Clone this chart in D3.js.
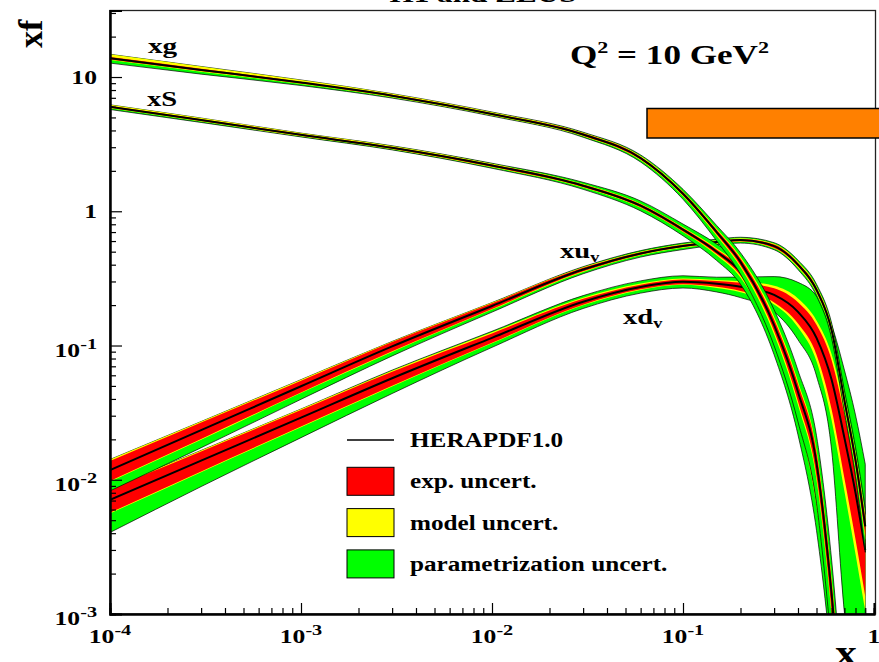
<!DOCTYPE html>
<html>
<head>
<meta charset="utf-8">
<script src="https://cdn.jsdelivr.net/npm/d3@7"></script>
<style>
  body { margin: 0; background: #fff; }
  svg { display: block; }
  text { font-family: "Liberation Serif", "Times New Roman", serif; font-weight: bold; fill: #000; }
</style>
</head>
<body>
<svg id="chart" width="879" height="662"></svg>
<script>
// x grid shared by all four distributions
const xGrid = [1e-4, 3e-4, 1e-3, 3e-3, 0.01, 0.03, 0.06, 0.1, 0.15, 0.2, 0.3, 0.4, 0.5, 0.6, 0.7, 0.8, 0.9];

// gluon
const xgCentral = [13.8, 11.3, 9.1, 7.26, 5.3, 3.73, 2.49, 1.35, 0.70, 0.42, 0.142, 0.045, 0.0133, 0.0014, 0.0001, 0.00001, 0.000001];
const xgExp   = [0.02, 0.02, 0.015, 0.015, 0.015, 0.02, 0.025, 0.03, 0.04, 0.06, 0.10, 0.15, 0.2, 0.25, 0.3, 0.3, 0.3];
const xgModUp = [0.05, 0.04, 0.03, 0.02, 0.015, 0.01, 0.01, 0.01, 0.02, 0.03, 0.05, 0.05, 0.05, 0.05, 0.05, 0.05, 0.05];
const xgModDn = [0.01, 0.01, 0.01, 0.01, 0.01, 0.01, 0.01, 0.01, 0.02, 0.03, 0.05, 0.05, 0.05, 0.05, 0.05, 0.05, 0.05];
const xgParUp = [0, 0, 0, 0, 0.005, 0.01, 0.02, 0.04, 0.06, 0.08, 0.15, 0.25, 0.35, 0.5, 0.5, 0.5, 0.5];
const xgParDn = [0.05, 0.04, 0.025, 0.015, 0.01, 0.015, 0.03, 0.05, 0.08, 0.1, 0.15, 0.2, 0.25, 0.3, 0.3, 0.3, 0.3];

// sea
const xSCentral = [6.0, 4.78, 3.71, 2.97, 2.19, 1.55, 1.10, 0.73, 0.50, 0.353, 0.12, 0.036, 0.0084, 0.0011, 0.0001, 0.00001, 0.000001];
const xSExp   = [0.015, 0.015, 0.015, 0.015, 0.02, 0.02, 0.025, 0.03, 0.04, 0.06, 0.1, 0.15, 0.2, 0.25, 0.3, 0.3, 0.3];
const xSModUp = [0.02, 0.02, 0.015, 0.015, 0.01, 0.01, 0.01, 0.01, 0.02, 0.03, 0.04, 0.05, 0.05, 0.05, 0.05, 0.05, 0.05];
const xSModDn = [0.01, 0.01, 0.01, 0.01, 0.01, 0.01, 0.01, 0.01, 0.02, 0.03, 0.04, 0.05, 0.05, 0.05, 0.05, 0.05, 0.05];
const xSParUp = [0, 0, 0, 0.005, 0.01, 0.03, 0.05, 0.06, 0.08, 0.1, 0.15, 0.25, 0.35, 0.5, 0.5, 0.5, 0.5];
const xSParDn = [0.02, 0.015, 0.01, 0.01, 0.015, 0.03, 0.05, 0.06, 0.08, 0.1, 0.15, 0.2, 0.25, 0.3, 0.3, 0.3, 0.3];

// u valence
const xuvCentral = [0.0118, 0.0234, 0.0497, 0.0984, 0.197, 0.368, 0.485, 0.552, 0.59, 0.61, 0.55, 0.40, 0.26, 0.13, 0.039, 0.014, 0.0045];
const xuvExp   = [0.17, 0.14, 0.10, 0.08, 0.05, 0.03, 0.02, 0.02, 0.02, 0.02, 0.03, 0.03, 0.04, 0.05, 0.07, 0.10, 0.15];
const xuvModUp = [0.03, 0.02, 0.02, 0.01, 0.01, 0.01, 0.01, 0.01, 0.01, 0.01, 0.01, 0.02, 0.02, 0.03, 0.04, 0.05, 0.06];
const xuvModDn = [0.01, 0.01, 0.01, 0.01, 0.01, 0.01, 0.01, 0.01, 0.01, 0.01, 0.01, 0.02, 0.02, 0.03, 0.04, 0.05, 0.06];
const xuvParUp = [0, 0, 0, 0, 0, 0.01, 0.02, 0.02, 0.02, 0.02, 0.02, 0.03, 0.04, 0.05, 0.08, 0.1, 0.15];
const xuvParDn = [0.12, 0.11, 0.09, 0.06, 0.04, 0.03, 0.03, 0.03, 0.02, 0.02, 0.02, 0.03, 0.04, 0.05, 0.08, 0.1, 0.15];

// d valence
const xdvCentral = [0.0071, 0.0139, 0.029, 0.057, 0.114, 0.212, 0.273, 0.298, 0.288, 0.274, 0.238, 0.178, 0.114, 0.0555, 0.0205, 0.008, 0.003];
const xdvExp   = [0.2, 0.17, 0.14, 0.12, 0.08, 0.05, 0.04, 0.04, 0.05, 0.07, 0.12, 0.18, 0.25, 0.4, 0.5, 0.55, 0.55];
const xdvModUp = [0.02, 0.02, 0.02, 0.02, 0.02, 0.02, 0.02, 0.02, 0.02, 0.03, 0.05, 0.08, 0.1, 0.15, 0.2, 0.25, 0.3];
const xdvModDn = [0.01, 0.01, 0.01, 0.01, 0.01, 0.01, 0.01, 0.01, 0.02, 0.02, 0.03, 0.05, 0.08, 0.1, 0.1, 0.1, 0.1];
const xdvParUp = [0, 0, 0, 0.01, 0.02, 0.04, 0.05, 0.05, 0.05, 0.08, 0.2, 0.4, 0.7, 1.0, 1.5, 2.0, 2.5];
const xdvParDn = [0.22, 0.18, 0.14, 0.1, 0.06, 0.05, 0.05, 0.05, 0.06, 0.08, 0.1, 0.15, 0.15, 0.2, 0.35, 0.35, 0.35];

// axes ticks and labels
const xMajor = [1e-4, 1e-3, 1e-2, 1e-1, 1];
const xMajorLabels = [["10", "-4"], ["10", "-3"], ["10", "-2"], ["10", "-1"], ["1", ""]];
const yMajor = [1e-3, 1e-2, 1e-1, 1, 10];
const yMajorLabels = [["10", "-3"], ["10", "-2"], ["10", "-1"], ["1", ""], ["10", ""]];

const legendLabels = ["HERAPDF1.0", "exp. uncert.", "model uncert.", "parametrization uncert."];
const legendColors = [null, "#ff0000", "#ffff00", "#00ff00"];

const svg = d3.select("#chart");
const plotL = 110, plotR = 874, plotT = 10.5, plotB = 614, frameR = 875.5;

const x = d3.scaleLog().domain([1e-4, 1]).range([plotL, plotR]);
const y = d3.scaleLog().domain([1e-3, 31.3]).range([plotB, plotT]);

svg.append("defs").append("clipPath").attr("id", "plotClip")
  .append("rect").attr("x", plotL).attr("y", plotT).attr("width", frameR - plotL).attr("height", plotB - plotT);

// build band rows for one distribution
function bands(c, ex, mu, md, pu, pd) {
  const lo = (v, d) => v * Math.max(1 - d, 0.03);
  return xGrid.map((xv, i) => ({
    x: xv, c: c[i],
    eLo: lo(c[i], ex[i]), eHi: c[i] * (1 + ex[i]),
    mLo: lo(c[i], ex[i] + md[i]), mHi: c[i] * (1 + ex[i] + mu[i]),
    pLo: lo(c[i], ex[i] + md[i] + pd[i]), pHi: c[i] * (1 + ex[i] + mu[i] + pu[i])
  }));
}

const pdfs = [
  bands(xdvCentral, xdvExp, xdvModUp, xdvModDn, xdvParUp, xdvParDn),
  bands(xuvCentral, xuvExp, xuvModUp, xuvModDn, xuvParUp, xuvParDn),
  bands(xSCentral, xSExp, xSModUp, xSModDn, xSParUp, xSParDn),
  bands(xgCentral, xgExp, xgModUp, xgModDn, xgParUp, xgParDn)
];

const plot = svg.append("g").attr("clip-path", "url(#plotClip)");

function area(loKey, hiKey) {
  return d3.area().x(d => x(d.x)).y0(d => y(d[loKey])).y1(d => y(d[hiKey])).curve(d3.curveMonotoneX);
}
const centralLine = d3.line().x(d => x(d.x)).y(d => y(d.c)).curve(d3.curveMonotoneX);

pdfs.forEach(rows => {
  const g = plot.append("g");
  g.append("path").attr("d", area("pLo", "pHi")(rows)).attr("fill", "#00ff00")
    .attr("stroke", "#000").attr("stroke-width", 0.7);
  g.append("path").attr("d", area("mLo", "mHi")(rows)).attr("fill", "#ffff00");
  g.append("path").attr("d", area("eLo", "eHi")(rows)).attr("fill", "#ff0000");
  g.append("path").attr("d", centralLine(rows)).attr("fill", "none")
    .attr("stroke", "#000").attr("stroke-width", 2);
});

// frame
svg.append("rect").attr("x", plotL).attr("y", plotT).attr("width", frameR - plotL).attr("height", plotB - plotT)
  .attr("fill", "none").attr("stroke", "#222").attr("stroke-width", 1.3);

// ticks
const xMinor = [];
for (let e = -4; e < 0; e++) for (let m = 2; m <= 9; m++) xMinor.push(m * Math.pow(10, e));
const yMinor = [];
for (let e = -3; e <= 1; e++) for (let m = 2; m <= 9; m++) { const v = m * Math.pow(10, e); if (v < 31.3) yMinor.push(v); }

svg.append("g").attr("transform", `translate(0,${plotB})`)
  .call(d3.axisBottom(x).tickValues(xMinor).tickSize(-6).tickFormat(""));
svg.append("g").attr("transform", `translate(0,${plotB})`)
  .call(d3.axisBottom(x).tickValues(xMajor).tickSize(-11).tickFormat(""));
svg.append("g").attr("transform", `translate(${plotL},0)`)
  .call(d3.axisLeft(y).tickValues(yMinor).tickSize(-6).tickFormat(""));
svg.append("g").attr("transform", `translate(${plotL},0)`)
  .call(d3.axisLeft(y).tickValues(yMajor).tickSize(-12).tickFormat(""));
svg.selectAll(".domain").attr("stroke", "#000").attr("stroke-width", 2);
svg.selectAll(".tick line").attr("stroke", "#000").attr("stroke-width", 1.2);

// stretched serif text helper
function label(tx, ty, sx, size, anchor) {
  return svg.append("g").attr("transform", `translate(${tx},${ty}) scale(${sx},1)`)
    .append("text").attr("font-size", size).attr("text-anchor", anchor || "start");
}
function addSup(t, base, sup, supSize, dy) {
  t.append("tspan").text(base);
  if (sup) t.append("tspan").attr("font-size", supSize).attr("dy", dy).text(sup);
}

xMajor.forEach((v, i) => {
  const [b, s] = xMajorLabels[i];
  addSup(label(x(v), 643, 1.35, 19, "middle"), b, s, 15, -8);
});
yMajor.forEach((v, i) => {
  const [b, s] = yMajorLabels[i];
  addSup(label(97, y(v) + (s ? 11 : 7), 1.35, 19, "end"), b, s, 15, -8);
});

// axis titles
svg.append("text").attr("transform", "translate(42,48) rotate(-90)")
  .attr("font-size", 34).text("xf");
label(846, 665, 1.2, 36, "middle").text("x");

// title, mostly above the visible area
label(483, 1.5, 1.3, 24, "middle").text("H1 and ZEUS");

// Q2 label
const q = label(570, 64, 1.3, 27, "start");
q.append("tspan").text("Q");
q.append("tspan").attr("font-size", 17).attr("dy", -11).text("2");
q.append("tspan").attr("dy", 11).text(" = 10 GeV");
q.append("tspan").attr("font-size", 17).attr("dy", -11).text("2");

// orange box
svg.append("rect").attr("x", 647).attr("y", 108.5).attr("width", 240).attr("height", 29.5)
  .attr("fill", "#ff8000").attr("stroke", "#000").attr("stroke-width", 1.5);

// curve labels
label(148, 53, 1.33, 22).text("xg");
label(147, 106, 1.3, 22).text("xS");
const lu = label(560, 258, 1.3, 22);
lu.append("tspan").text("xu");
lu.append("tspan").attr("font-size", 14).attr("dy", 4).text("v");
const ld = label(623, 324, 1.3, 22);
ld.append("tspan").text("xd");
ld.append("tspan").attr("font-size", 14).attr("dy", 4).text("v");

// legend
legendLabels.forEach((t, i) => {
  const cy = 440 + 41.3 * i;
  if (legendColors[i]) {
    svg.append("rect").attr("x", 347).attr("y", cy - 14).attr("width", 47).attr("height", 28)
      .attr("fill", legendColors[i]).attr("stroke", "#000").attr("stroke-width", 1);
  } else {
    svg.append("line").attr("x1", 347).attr("x2", 394).attr("y1", cy).attr("y2", cy)
      .attr("stroke", "#000").attr("stroke-width", 1.5);
  }
  label(410, cy + 7, 1.26, 20).text(t);
});
</script>
</body>
</html>
